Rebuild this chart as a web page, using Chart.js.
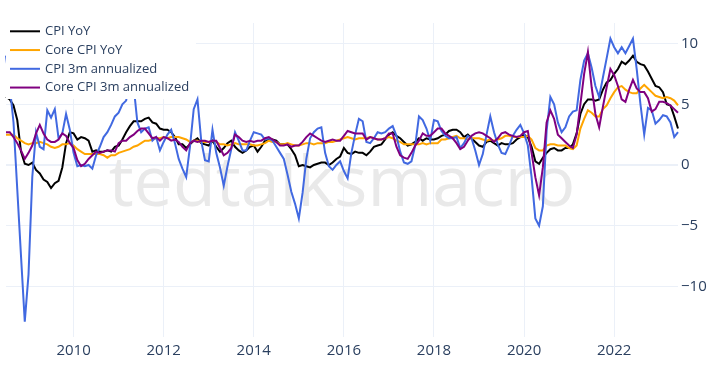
<!DOCTYPE html>
<html><head><meta charset="utf-8">
<script src="https://cdn.jsdelivr.net/npm/chart.js@4.4.0/dist/chart.umd.min.js"></script>
<style>html,body{margin:0;padding:0;background:#fff;} #wrap{width:718px;height:373px;position:relative;} canvas{display:block;}</style>
</head><body><div id="wrap"><canvas id="c" width="718" height="373"></canvas></div>
<script>
// ---- categories (monthly, Jul 2008 .. Jun 2023) ----
const startYear = 2008, startMonth = 7, monthCount = 180;
const months = [];
for (let i = 0; i < monthCount; i++) {
  const m = (startMonth - 1 + i) % 12 + 1;
  const y = startYear + Math.floor((startMonth - 1 + i) / 12);
  months.push(y + '-' + String(m).padStart(2, '0'));
}
const xTickYears = [2010, 2012, 2014, 2016, 2018, 2020, 2022];
const yTicks = [-10, -5, 0, 5, 10];
const seriesNames = ['CPI YoY', 'Core CPI YoY', 'CPI 3m annualized', 'Core CPI 3m annualized'];
const watermarkText = 'tedtalksmacro';

// ---- series values ----
const cpiYoY = [
  5.6, 5.4, 4.9, 3.7, 1.1, 0.1,
  0.0, 0.2, -0.4, -0.7, -1.2, -1.4, -1.9, -1.5, -1.3, -0.2, 1.8, 2.7,
  2.6, 2.1, 2.3, 2.2, 2.0, 1.1, 1.2, 1.1, 1.1, 1.2, 1.1, 1.5,
  1.6, 2.1, 2.7, 3.2, 3.6, 3.6, 3.6, 3.8, 3.9, 3.5, 3.4, 3.0,
  2.9, 2.9, 2.7, 2.3, 1.7, 1.7, 1.4, 1.7, 2.0, 2.2, 1.8, 1.7,
  1.6, 2.0, 1.5, 1.1, 1.4, 1.8, 2.0, 1.5, 1.2, 1.0, 1.2, 1.5,
  1.6, 1.1, 1.5, 2.0, 2.1, 2.1, 2.0, 1.7, 1.7, 1.7, 1.3, 0.8,
  -0.1, 0.0, -0.1, -0.2, 0.0, 0.1, 0.2, 0.2, 0.0, 0.2, 0.5, 0.7,
  1.4, 1.0, 0.9, 1.1, 1.0, 1.0, 0.8, 1.1, 1.5, 1.6, 1.7, 2.1,
  2.5, 2.7, 2.4, 2.2, 1.9, 1.6, 1.7, 1.9, 2.2, 2.0, 2.2, 2.1,
  2.1, 2.2, 2.4, 2.5, 2.8, 2.9, 2.9, 2.7, 2.3, 2.5, 2.2, 1.9,
  1.6, 1.5, 1.9, 2.0, 1.8, 1.6, 1.8, 1.7, 1.7, 1.8, 2.1, 2.3,
  2.5, 2.3, 1.5, 0.3, 0.1, 0.6, 1.0, 1.3, 1.4, 1.2, 1.2, 1.4,
  1.4, 1.7, 2.6, 4.2, 5.0, 5.4, 5.4, 5.3, 5.4, 6.2, 6.8, 7.0,
  7.5, 7.9, 8.5, 8.3, 8.6, 9.0, 8.5, 8.3, 8.2, 7.7, 7.1, 6.5,
  6.4, 6.0, 5.0, 4.9, 4.0, 3.0
];
const coreYoY = [
  2.5, 2.5, 2.5, 2.2, 2.0, 1.8,
  1.7, 1.8, 1.8, 1.9, 1.8, 1.7, 1.5, 1.4, 1.5, 1.7, 1.7, 1.8,
  1.6, 1.3, 1.1, 0.9, 0.9, 0.9, 0.9, 0.9, 0.8, 0.6, 0.8, 0.8,
  1.0, 1.1, 1.2, 1.3, 1.5, 1.6, 1.8, 2.0, 2.0, 2.1, 2.2, 2.2,
  2.3, 2.2, 2.3, 2.3, 2.3, 2.2, 2.1, 1.9, 2.0, 2.0, 1.9, 1.9,
  1.9, 2.0, 1.9, 1.7, 1.7, 1.6, 1.7, 1.8, 1.7, 1.7, 1.7, 1.7,
  1.6, 1.6, 1.7, 1.8, 2.0, 1.9, 1.9, 1.7, 1.7, 1.8, 1.7, 1.6,
  1.6, 1.7, 1.8, 1.8, 1.7, 1.8, 1.8, 1.8, 1.9, 1.9, 2.0, 2.1,
  2.2, 2.3, 2.2, 2.1, 2.2, 2.2, 2.2, 2.3, 2.2, 2.1, 2.1, 2.2,
  2.3, 2.2, 2.0, 1.9, 1.7, 1.7, 1.7, 1.7, 1.7, 1.8, 1.7, 1.8,
  1.8, 1.8, 2.1, 2.1, 2.2, 2.3, 2.4, 2.2, 2.2, 2.1, 2.2, 2.2,
  2.2, 2.1, 2.0, 2.1, 2.0, 2.1, 2.2, 2.4, 2.4, 2.3, 2.3, 2.3,
  2.3, 2.4, 2.1, 1.4, 1.2, 1.2, 1.6, 1.7, 1.7, 1.6, 1.6, 1.6,
  1.4, 1.3, 1.6, 3.0, 3.8, 4.5, 4.3, 4.0, 4.0, 4.6, 4.9, 5.5,
  6.0, 6.4, 6.5, 6.2, 6.0, 5.9, 5.9, 6.3, 6.6, 6.3, 6.0, 5.7,
  5.6, 5.5, 5.6, 5.5, 5.3, 4.9
];
const cpi3m = [
  9.0, 6.5, 3.5, -2.0, -7.5, -12.9,
  -9.0, -1.0, 2.7, 1.5, 1.3, 4.5, 3.9, 4.6, 2.2, 2.6, 4.2, 2.9,
  1.0, -0.1, 0.0, -0.1, 0.0, -0.3, 0.8, 1.5, 2.3, 2.7, 3.3, 4.0,
  4.3, 5.0, 5.3, 7.0, 6.5, 3.5, 2.7, 3.0, 3.1, 2.0, 2.3, 1.2,
  1.9, 2.5, 2.9, 1.8, 0.5, -0.3, -1.0, 1.5, 4.6, 5.4, 2.0, 0.4,
  0.3, 2.9, 1.0, -0.2, -1.7, -0.1, 1.3, 2.7, 2.0, 1.2, 1.2, 2.0,
  2.7, 2.6, 2.5, 2.1, 2.2, 2.0, 1.5, 1.0, 0.5, -0.8, -2.2, -3.2,
  -4.4, -2.3, 0.5, 2.2, 2.7, 3.0, 3.1, 1.0, -0.1, -0.4, 0.0, 0.3,
  -0.5, -1.1, 1.0, 2.5, 3.8, 3.6, 1.9, 1.8, 2.2, 2.7, 2.6, 2.7,
  3.0, 3.2, 2.4, 1.1, 0.2, 0.1, 0.3, 1.6, 4.0, 3.7, 3.0, 2.0,
  3.7, 3.6, 2.8, 2.4, 2.2, 2.2, 2.3, 1.4, 1.8, 2.4, 2.2, 1.2,
  0.0, 0.9, 2.5, 4.0, 2.7, 1.7, 1.0, 0.9, 1.6, 2.4, 2.9, 3.3,
  2.6, 1.6, -1.0, -4.4, -5.0, -3.4, 2.8, 5.6, 5.0, 3.5, 2.7, 3.1,
  4.0, 4.4, 4.5, 7.0, 8.6, 9.2, 8.0, 6.5, 5.6, 7.2, 8.8, 10.4,
  9.7, 9.2, 9.7, 9.2, 9.8, 10.4, 7.9, 5.0, 2.5, 4.7, 4.5, 3.4,
  3.7, 4.1, 4.0, 3.5, 2.3, 2.7
];
const core3m = [
  2.7, 2.7, 2.3, 1.8, 1.2, 0.5,
  1.0, 1.6, 2.6, 3.3, 2.6, 2.1, 1.9, 1.9, 2.1, 2.6, 2.4, 1.8,
  1.4, 0.4, -0.1, 0.1, 0.5, 0.8, 1.1, 1.0, 1.1, 1.2, 1.2, 1.1,
  1.8, 2.0, 2.0, 2.3, 2.5, 2.8, 3.0, 3.0, 2.6, 2.2, 2.3, 2.0,
  2.3, 2.2, 2.0, 2.1, 1.9, 1.5, 1.2, 1.8, 2.0, 1.9, 2.0, 2.0,
  1.9, 2.0, 2.0, 1.4, 0.8, 1.0, 1.4, 2.5, 2.3, 2.0, 1.9, 2.0,
  1.9, 2.0, 2.0, 2.2, 2.3, 2.1, 1.9, 1.6, 1.6, 1.7, 1.5, 1.6,
  1.6, 1.9, 2.3, 2.6, 2.4, 2.2, 2.0, 1.9, 2.0, 2.1, 2.0, 2.0,
  2.4, 2.8, 2.7, 2.6, 2.6, 2.6, 2.1, 2.3, 2.2, 2.1, 2.1, 2.2,
  2.6, 2.6, 1.5, 0.8, 0.6, 0.5, 1.0, 1.6, 2.0, 2.6, 2.4, 2.4,
  2.7, 3.0, 3.0, 2.6, 2.4, 2.2, 1.8, 1.3, 1.5, 2.0, 2.4, 2.6,
  2.7, 2.6, 2.4, 2.2, 1.9, 2.2, 2.6, 2.7, 2.5, 2.4, 2.3, 2.4,
  2.7, 2.8, 1.0, -1.0, -2.5, -0.2, 3.5, 4.5, 3.8, 2.5, 2.2, 1.9,
  1.6, 1.4, 2.5, 5.0, 7.5, 9.3, 6.4, 4.2, 3.1, 4.8, 6.4, 7.9,
  7.4, 6.5, 5.4, 5.2, 6.2, 7.0, 6.3, 6.0, 6.0, 5.5, 4.4, 4.6,
  5.2, 5.2, 5.1, 4.9, 4.6, 4.3
];

// ---- styles ----
const lineColors = ['#000000', '#FFA500', '#4169E1', '#800080'];
const textColor = '#2a3f5f';
const gridColor = '#EBF0F8';
const fontFamily = '"Open Sans", verdana, arial, sans-serif';

const watermarkPlugin = {
  id: 'watermark',
  beforeDatasetsDraw(chart) {
    const ctx = chart.ctx, a = chart.chartArea;
    ctx.save();
    ctx.font = '70px ' + fontFamily;
    ctx.fillStyle = '#e9e9e9';
    ctx.textAlign = 'center';
    ctx.textBaseline = 'alphabetic';
    ctx.fillText(watermarkText, 342, 206);
    ctx.restore();
  }
};

const overlayLegend = {
  id: 'overlayLegend',
  afterDatasetsDraw(chart) {
    const ctx = chart.ctx, a = chart.chartArea;
    ctx.save();
    ctx.fillStyle = '#ffffff';
    ctx.fillRect(a.left, a.top, 190, 76);
    ctx.font = '13px ' + fontFamily;
    ctx.textBaseline = 'middle';
    ctx.textAlign = 'left';
    chart.data.datasets.forEach((ds, i) => {
      const y = a.top + 8.3 + i * 18.75;
      ctx.strokeStyle = ds.borderColor;
      ctx.lineWidth = 2;
      ctx.beginPath();
      ctx.moveTo(a.left + 4, y);
      ctx.lineTo(a.left + 34, y);
      ctx.stroke();
      ctx.fillStyle = textColor;
      ctx.fillText(ds.label, a.left + 39, y);
    });
    ctx.restore();
  }
};

const seriesValues = [cpiYoY, coreYoY, cpi3m, core3m];
const drawOrder = [4, 3, 2, 1];

new Chart(document.getElementById('c'), {
  type: 'line',
  data: {
    labels: months,
    datasets: seriesNames.map((name, i) => ({
      label: name,
      data: seriesValues[i],
      borderColor: lineColors[i],
      backgroundColor: lineColors[i],
      borderWidth: 2,
      pointRadius: 0,
      tension: 0,
      fill: false,
      order: drawOrder[i]
    }))
  },
  options: {
    responsive: false,
    animation: false,
    devicePixelRatio: 1,
    layout: { padding: { left: 6, top: 23, right: 0, bottom: 0 } },
    plugins: { legend: { display: false }, tooltip: { enabled: false } },
    scales: {
      x: {
        type: 'category',
        offset: false,
        grid: { color: gridColor, lineWidth: 1, drawTicks: false },
        border: { display: false },
        ticks: {
          autoSkip: false, maxRotation: 0, minRotation: 0, padding: 5,
          color: textColor, font: { family: fontFamily, size: 15 },
          callback: function (v) {
            const l = this.getLabelForValue(v);
            const parts = l.split('-');
            return (parts[1] === '01' && xTickYears.includes(+parts[0])) ? parts[0] : null;
          }
        },
        afterFit(s) { s.height = 36; }
      },
      y: {
        position: 'right',
        min: -14.16, max: 11.69,
        grid: {
          color: gridColor,
          lineWidth: (ctx) => (ctx.tick && ctx.tick.value === 0 ? 2 : 1),
          drawTicks: false
        },
        border: { display: false },
        ticks: {
          padding: 3, color: textColor, font: { family: fontFamily, size: 15 },
          callback: (v) => (v < 0 ? '\u2212' + Math.abs(v) : String(v))
        },
        afterBuildTicks(s) { s.ticks = yTicks.map(v => ({ value: v })); },
        afterFit(s) { s.width = 40; }
      }
    }
  },
  plugins: [watermarkPlugin, overlayLegend]
});
</script>
</body></html>
